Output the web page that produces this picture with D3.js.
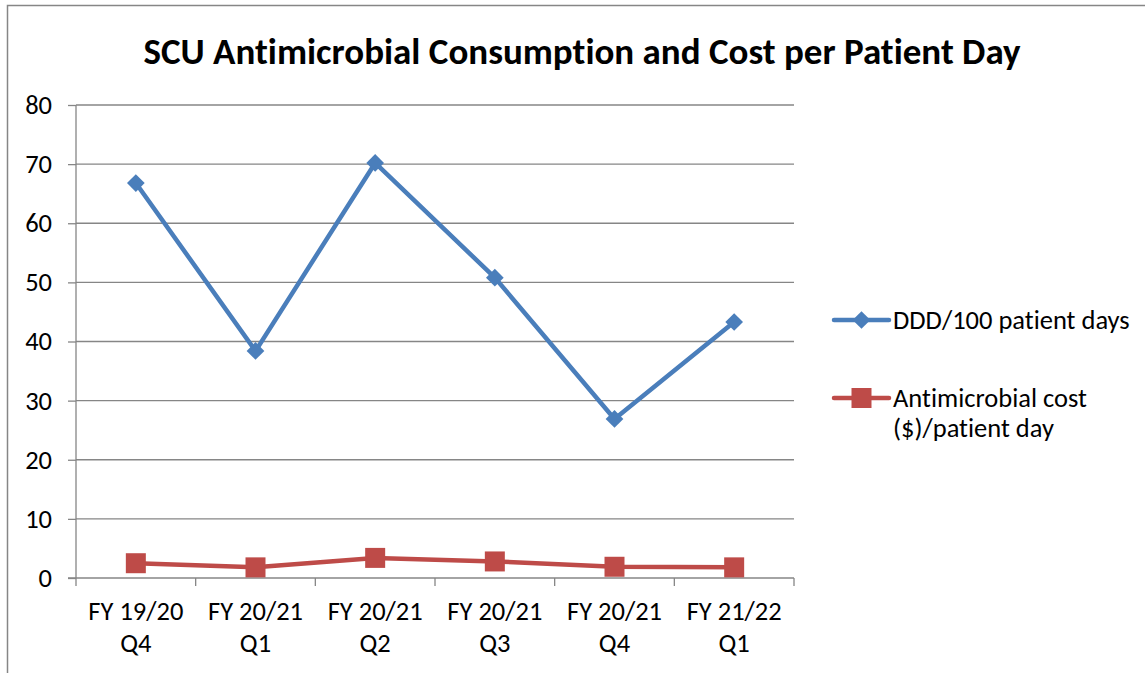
<!DOCTYPE html>
<html>
<head>
<meta charset="utf-8">
<script src="https://cdn.jsdelivr.net/npm/d3@7"></script>
<style>
  body { margin: 0; background: #fff; }
  svg, svg text { font-family: Carlito, "Open Sans", "Noto Sans", sans-serif; font-variant-ligatures: none; }
  .grid line { stroke: #868686; stroke-width: 1.3; }
  .axis path, .axis line { stroke: #868686; stroke-width: 1.3; }
  .axis text { fill: #000; font-size: 26.5px; }
</style>
</head>
<body>
<svg width="1145" height="673"></svg>
<script>
// categories and series
const quarters = ["FY 19/20 Q4", "FY 20/21 Q1", "FY 20/21 Q2", "FY 20/21 Q3", "FY 20/21 Q4", "FY 21/22 Q1"];
const ddd  = [66.8, 38.4, 70.2, 50.8, 26.9, 43.3];
const cost = [2.5, 1.8, 3.4, 2.8, 1.9, 1.8];
const yTicks = [0, 10, 20, 30, 40, 50, 60, 70, 80];

const series = [
  {name: ["DDD/100 patient days"], values: ddd, color: "#4A7EBB", shape: "diamond"},
  {name: ["Antimicrobial cost", "($)/patient day"], values: cost, color: "#BE4B48", shape: "square"}
];

const svg = d3.select("svg");

// chart frame (bottom and right edge run off the picture)
svg.append("path")
  .attr("d", "M7.5,673 V5.5 H1145")
  .attr("fill", "none")
  .attr("stroke", "#868686")
  .attr("stroke-width", 1.5);

const margin = {left: 76, right: 794, top: 105, bottom: 578};

const x = d3.scaleBand()
  .domain(quarters)
  .range([margin.left, margin.right]);

const y = d3.scaleLinear()
  .domain([0, 80])
  .range([margin.bottom, margin.top]);

// title
svg.append("text")
  .attr("x", 582)
  .attr("y", 64)
  .attr("text-anchor", "middle")
  .attr("font-size", "37px")
  .attr("font-weight", "bold")
  .text("SCU Antimicrobial Consumption and Cost per Patient Day");

// horizontal gridlines
svg.append("g")
  .attr("class", "grid")
  .selectAll("line")
  .data(yTicks.filter(d => d > 0))
  .enter()
  .append("line")
  .attr("x1", margin.left)
  .attr("x2", margin.right)
  .attr("y1", d => y(d))
  .attr("y2", d => y(d));

// y axis
const yAxis = svg.append("g")
  .attr("class", "axis")
  .attr("transform", `translate(${margin.left},0)`)
  .call(d3.axisLeft(y).tickValues(yTicks).tickSize(8).tickSizeOuter(0).tickPadding(16));
yAxis.attr("font-family", null);
yAxis.select(".domain").attr("d", `M0,${margin.top}V${margin.bottom}`);

// x axis with ticks between categories
const xAxis = svg.append("g")
  .attr("class", "axis")
  .attr("transform", `translate(0,${margin.bottom})`);
xAxis.append("line")
  .attr("x1", margin.left - 8)
  .attr("x2", margin.right)
  .attr("y1", 0).attr("y2", 0);
xAxis.selectAll("line.tick")
  .data(quarters.map(q => x(q)).concat([margin.right]))
  .enter()
  .append("line")
  .attr("class", "tick")
  .attr("x1", d => d).attr("x2", d => d)
  .attr("y1", 0).attr("y2", 8);

const labels = xAxis.selectAll("text")
  .data(quarters)
  .enter()
  .append("text")
  .attr("text-anchor", "middle")
  .attr("x", d => x(d) + x.bandwidth() / 2);
labels.append("tspan")
  .attr("x", d => x(d) + x.bandwidth() / 2)
  .attr("y", 42)
  .text(d => d.slice(0, 8));
labels.append("tspan")
  .attr("x", d => x(d) + x.bandwidth() / 2)
  .attr("y", 74)
  .text(d => d.slice(9));

const line = d3.line()
  .x((d, i) => x(quarters[i]) + x.bandwidth() / 2)
  .y(d => y(d));

const diamond = d3.symbol().type(d3.symbolDiamond2).size(200);
const square = d3.symbol().type(d3.symbolSquare).size(400);

series.forEach(function(s) {
  svg.append("path")
    .datum(s.values)
    .attr("fill", "none")
    .attr("stroke", s.color)
    .attr("stroke-width", 4.5)
    .attr("stroke-linejoin", "round")
    .attr("d", line);

  svg.append("g")
    .selectAll("path")
    .data(s.values)
    .enter()
    .append("path")
    .attr("transform", (d, i) => `translate(${x(quarters[i]) + x.bandwidth() / 2},${y(d)})`)
    .attr("d", s.shape === "diamond" ? diamond : square)
    .attr("fill", s.color);
});

// legend
const legend = svg.append("g")
  .selectAll("g")
  .data(series)
  .enter()
  .append("g")
  .attr("transform", (d, i) => `translate(834,${320 + i * 78})`);

legend.append("line")
  .attr("x1", 0).attr("x2", 55)
  .attr("stroke", d => d.color)
  .attr("stroke-width", 4.5)
  .attr("stroke-linecap", "round");

legend.append("path")
  .attr("transform", "translate(27.5,0)")
  .attr("d", d => d.shape === "diamond" ? diamond() : square())
  .attr("fill", d => d.color);

legend.append("text")
  .attr("font-size", "26.5px")
  .selectAll("tspan")
  .data(d => d.name)
  .enter()
  .append("tspan")
  .attr("x", 59)
  .attr("y", (d, i) => 9 + i * 30)
  .text(d => d);
</script>
</body>
</html>
